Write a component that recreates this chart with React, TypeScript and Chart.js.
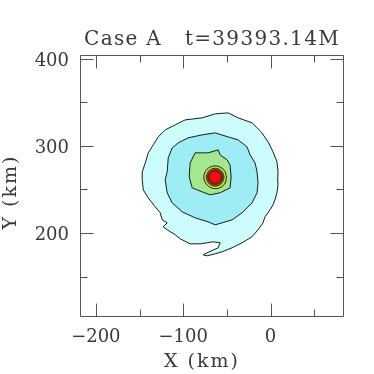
import React, { useEffect, useRef } from "react";
import { Chart, registerables } from "chart.js";

Chart.register(...registerables);

// ---- text ----
const TITLE = "Case A   t=39393.14M";
const X_TITLE = "X (km)";
const Y_TITLE = "Y (km)";

// ---- axes (km) ----
const X_MIN = -217;
const X_MAX = 83;
const Y_MIN = 105;
const Y_MAX = 403;
const X_TICKS = [-200, -150, -100, -50, 0, 50];
const Y_TICKS = [150, 200, 250, 300, 350, 400];
const LABEL_STEP = 100;

// ---- contour polygons (x km, y km) ----
const contourLevel1: [number, number][] = [
  [-63.4, 336.7], [-48.6, 337.8], [-37.1, 332.1], [-21.1, 326.4], [-10.7, 316.0],
  [-2.8, 304.6], [2.9, 293.1], [7.4, 281.7], [8.6, 270.2], [8.2, 262.0], [8.6, 255.3],
  [7.4, 246.2], [5.1, 238.1], [2.9, 232.4], [-0.6, 226.7], [-6.3, 218.7],
  [-8.6, 211.8], [-14.3, 203.8], [-21.1, 195.8], [-32.6, 188.9], [-44.0, 183.2],
  [-55.4, 178.6], [-63.4, 176.3], [-72.6, 174.0], [-77.1, 175.1], [-72.6, 177.4],
  [-60.0, 183.2], [-57.7, 188.9], [-65.7, 190.0], [-80.6, 187.7], [-92.0, 187.7],
  [-103.4, 193.5], [-109.1, 198.1], [-118.3, 203.8], [-122.9, 207.2], [-118.3, 211.8],
  [-124.0, 215.2], [-126.3, 223.3], [-132.0, 230.1], [-140.0, 240.4], [-145.7, 249.6],
  [-146.9, 261.1], [-146.9, 270.2], [-143.4, 280.5], [-140.0, 292.0], [-134.3, 301.1],
  [-128.6, 310.3], [-120.6, 318.3], [-109.1, 324.1], [-97.7, 329.8], [-78.3, 332.1],
  [-63.4, 336.7],
];

const contourLevel2: [number, number][] = [
  [-63.4, 314.9], [-48.6, 310.3], [-37.1, 306.9], [-26.9, 298.9], [-23.4, 289.7],
  [-17.7, 280.5], [-15.4, 270.2], [-14.3, 257.6], [-15.4, 246.2], [-21.1, 234.7],
  [-32.6, 223.3], [-44.0, 215.2], [-55.4, 211.8], [-63.4, 209.5], [-71.4, 212.9],
  [-86.3, 217.5], [-101.1, 224.4], [-112.6, 234.7], [-118.3, 246.2], [-120.6, 261.1],
  [-118.3, 270.2], [-117.1, 286.3], [-112.6, 297.7], [-105.7, 303.4], [-94.3, 309.2],
  [-78.3, 312.6], [-63.4, 314.9],
];

const contourLevel3: [number, number][] = [
  [-86.3, 292.0], [-71.4, 292.0], [-60.0, 295.4], [-57.7, 289.7], [-49.7, 284.0],
  [-46.3, 278.2], [-45.1, 264.5], [-46.3, 251.9], [-57.7, 246.2], [-69.1, 243.9],
  [-78.3, 247.3], [-89.7, 251.9], [-93.1, 264.5], [-92.0, 280.5], [-86.3, 292.0],
];

const contourLevel4: [number, number][] = [
  [-50.5, 264.1], [-52.2, 270.6], [-57.0, 275.3], [-63.4, 277.0], [-69.9, 275.3],
  [-74.6, 270.6], [-76.3, 264.1], [-74.6, 257.7], [-69.9, 252.9], [-63.4, 251.0],
  [-56.8, 252.6], [-52.0, 257.4], [-50.5, 264.1],
];

const contourLevel5: [number, number][] = [
  [-53.2, 264.1], [-54.6, 269.2], [-58.3, 273.0], [-63.4, 274.4], [-68.5, 273.0],
  [-72.2, 269.2], [-73.6, 264.1], [-72.2, 259.0], [-68.5, 255.2], [-63.4, 253.8],
  [-58.3, 255.2], [-54.6, 259.0], [-53.2, 264.1],
];

const contourLevel6: [number, number][] = [
  [-55.0, 264.1], [-56.1, 268.3], [-59.2, 271.4], [-63.4, 272.5], [-67.6, 271.4],
  [-70.7, 268.3], [-71.8, 264.1], [-70.7, 259.9], [-67.6, 256.8], [-63.4, 255.7],
  [-59.2, 256.8], [-56.1, 259.9], [-55.0, 264.1],
];

const contourLevel7: [number, number][] = [
  [-56.3, 264.1], [-57.3, 267.7], [-59.9, 270.2], [-63.4, 271.2], [-67.0, 270.2],
  [-69.5, 267.7], [-70.5, 264.1], [-69.5, 260.6], [-67.0, 258.0], [-63.4, 257.0],
  [-59.9, 258.0], [-57.3, 260.6], [-56.3, 264.1],
];

const contours = [
  contourLevel1, contourLevel2, contourLevel3, contourLevel4,
  contourLevel5, contourLevel6, contourLevel7,
];

// ---- styles ----
const LEVEL_COLORS = [
  "#cdfcfd", "#9eecf4", "#a3e890", "#d6e23a", "#8f6a2a", "#b03a22", "#ff0a0a",
];
const LEVEL_TENSION = [0, 0, 0, 0.4, 0.4, 0.4, 0.4];
const LEVEL_LINE_WIDTH = [1, 1, 1, 1, 0.8, 0.7, 0.7];
const SERIF = "'DejaVu Serif', 'Liberation Serif', serif";
const TEXT_COLOR = "#3a3a3a";
const FRAME_COLOR = "#555";

const fmt = (v: number) => (v < 0 ? "\u2212" + Math.abs(v) : String(v));

const framePlugin = {
  id: "frameTicks",
  afterDraw(chart: any) {
    const { ctx, chartArea: a, scales } = chart;
    const xs = scales.x;
    const ys = scales.y;
    ctx.save();
    ctx.strokeStyle = FRAME_COLOR;
    ctx.lineWidth = 1;
    const L = Math.round(a.left) - 0.5;
    const R = Math.round(a.right) + 0.5;
    const T = Math.round(a.top) - 0.5;
    const B = Math.round(a.bottom) + 0.5;
    ctx.beginPath();
    ctx.rect(L, T, R - L, B - T);
    ctx.stroke();
    ctx.beginPath();
    for (const t of xs.ticks) {
      const major = t.value % LABEL_STEP === 0;
      const len = major ? 13 : 7;
      const px = Math.round(xs.getPixelForValue(t.value)) + 0.5;
      ctx.moveTo(px, B);
      ctx.lineTo(px, B - len);
      ctx.moveTo(px, T);
      ctx.lineTo(px, T + len);
    }
    for (const t of ys.ticks) {
      const major = t.value % LABEL_STEP === 0;
      const len = major ? 13 : 7;
      const py = Math.round(ys.getPixelForValue(t.value)) + 0.5;
      ctx.moveTo(L, py);
      ctx.lineTo(L + len, py);
      ctx.moveTo(R, py);
      ctx.lineTo(R - len, py);
    }
    ctx.stroke();

    // tick labels from the scales' ticks
    ctx.fillStyle = TEXT_COLOR;
    ctx.font = `18px ${SERIF}`;
    ctx.textBaseline = "alphabetic";
    ctx.textAlign = "center";
    for (const t of xs.ticks) {
      if (t.value % LABEL_STEP !== 0) continue;
      ctx.fillText(fmt(t.value), xs.getPixelForValue(t.value), 342);
    }
    ctx.textAlign = "right";
    for (const t of ys.ticks) {
      if (t.value % LABEL_STEP !== 0) continue;
      ctx.fillText(fmt(t.value), 69, ys.getPixelForValue(t.value) + 7);
    }

    // titles
    (ctx as any).letterSpacing = "1.3px";
    ctx.font = `20px ${SERIF}`;
    ctx.textAlign = "center";
    ctx.fillText(TITLE, (a.left + a.right) / 2, 45);

    (ctx as any).letterSpacing = "2px";
    ctx.font = `19px ${SERIF}`;
    ctx.fillText(X_TITLE, (a.left + a.right) / 2 - 10, 367);

    ctx.translate(16, (a.top + a.bottom) / 2 + 6);
    ctx.rotate(-Math.PI / 2);
    ctx.fillText(Y_TITLE, 0, 0);
    ctx.restore();
  },
};

export default function App() {
  const ref = useRef<HTMLCanvasElement | null>(null);

  useEffect(() => {
    document.body.style.margin = "0";
    const canvas = ref.current;
    if (!canvas) return;
    const datasets = contours.map((pts, i) => ({
      data: pts.map(([x, y]) => ({ x, y })),
      showLine: true,
      fill: "shape",
      backgroundColor: LEVEL_COLORS[i],
      borderColor: "#1a1a1a",
      borderWidth: LEVEL_LINE_WIDTH[i],
      pointRadius: 0,
      tension: LEVEL_TENSION[i],
      order: contours.length - i,
    }));
    const chart = new Chart(canvas, {
      type: "scatter",
      data: { datasets: datasets as any },
      options: {
        animation: false,
        responsive: false,
        devicePixelRatio: 1,
        layout: { padding: { top: 56, right: 31, left: 0, bottom: 0 } },
        plugins: {
          legend: { display: false },
          title: { display: false },
          tooltip: { enabled: false },
        },
        scales: {
          x: {
            type: "linear",
            min: X_MIN,
            max: X_MAX,
            afterBuildTicks: (s: any) => {
              s.ticks = X_TICKS.map((value) => ({ value }));
            },
            afterFit: (s: any) => {
              s.height = 58;
            },
            grid: { display: false, drawTicks: false },
            border: { display: false },
            ticks: { display: false, autoSkip: false },
          },
          y: {
            type: "linear",
            min: Y_MIN,
            max: Y_MAX,
            afterBuildTicks: (s: any) => {
              s.ticks = Y_TICKS.map((value) => ({ value }));
            },
            afterFit: (s: any) => {
              s.width = 81;
            },
            grid: { display: false, drawTicks: false },
            border: { display: false },
            ticks: { display: false, autoSkip: false },
          },
        },
      },
      plugins: [framePlugin],
    });
    return () => chart.destroy();
  }, []);

  return (
    <div style={{ position: "fixed", left: 0, top: 0, width: 374, height: 374, background: "#fff" }}>
      <canvas ref={ref} width={374} height={374} style={{ width: 374, height: 374 }} />
    </div>
  );
}
